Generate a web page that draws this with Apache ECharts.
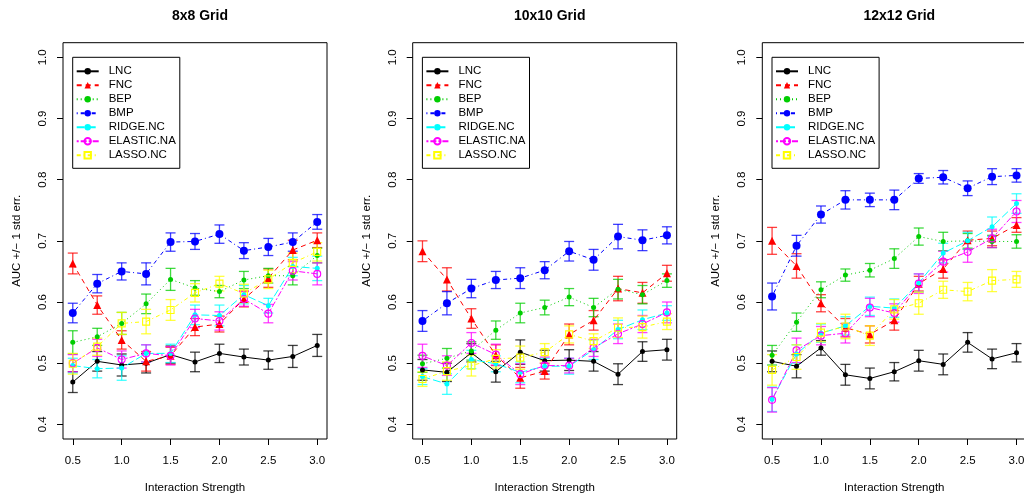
<!DOCTYPE html>
<html><head><meta charset="utf-8">
<script src="https://cdn.jsdelivr.net/npm/echarts@6/dist/echarts.min.js"></script>
<style>html,body{margin:0;padding:0;background:#fff}#c{width:1024px;height:493px}</style>
</head><body><div id="c"></div>
<script>
// ---------- data ----------
const xValues = [0.5,0.75,1,1.25,1.5,1.75,2,2.25,2.5,2.75,3];
const xTicks = [0.5,1,1.5,2,2.5,3];
const yTicks = [0.4,0.5,0.6,0.7,0.8,0.9,1.0];
const panelTitles = ['8x8 Grid','10x10 Grid','12x12 Grid'];
const methods = ['LNC','FNC','BEP','BMP','RIDGE.NC','ELASTIC.NA','LASSO.NC'];

// 8x8 grid: means and std errors
const g8_LNC = [0.469,0.503,0.497,0.500,0.514,0.502,0.516,0.510,0.505,0.511,0.529];
const g8_LNC_se = [0.017,0.016,0.018,0.016,0.014,0.016,0.015,0.013,0.015,0.018,0.018];
const g8_FNC = [0.663,0.595,0.538,0.503,0.512,0.559,0.564,0.605,0.639,0.685,0.701];
const g8_FNC_se = [0.017,0.015,0.015,0.016,0.014,0.014,0.013,0.013,0.015,0.016,0.012];
const g8_BEP = [0.534,0.543,0.565,0.597,0.637,0.623,0.617,0.636,0.643,0.643,0.676];
const g8_BEP_se = [0.019,0.014,0.018,0.016,0.018,0.012,0.010,0.014,0.012,0.015,0.012];
const g8_BMP = [0.582,0.630,0.650,0.646,0.698,0.699,0.711,0.684,0.690,0.698,0.731];
const g8_BMP_se = [0.016,0.015,0.014,0.018,0.015,0.013,0.015,0.013,0.014,0.015,0.012];
const g8_RIDGE = [0.496,0.491,0.492,0.516,0.516,0.579,0.578,0.612,0.594,0.658,0.655];
const g8_RIDGE_se = [0.012,0.015,0.020,0.014,0.015,0.016,0.017,0.015,0.012,0.015,0.020];
const g8_ELASTIC = [0.500,0.525,0.506,0.516,0.512,0.573,0.569,0.605,0.581,0.651,0.646];
const g8_ELASTIC_se = [0.014,0.014,0.014,0.014,0.015,0.015,0.015,0.012,0.015,0.015,0.018];
const g8_LASSO = [0.499,0.527,0.565,0.568,0.587,0.615,0.630,0.614,0.637,0.664,0.682];
const g8_LASSO_se = [0.017,0.014,0.018,0.020,0.017,0.015,0.012,0.015,0.015,0.016,0.015];

// 10x10 grid
const g10_LNC = [0.489,0.485,0.517,0.486,0.518,0.504,0.505,0.503,0.482,0.519,0.522];
const g10_LNC_se = [0.017,0.015,0.015,0.017,0.020,0.017,0.017,0.016,0.017,0.016,0.017];
const g10_FNC = [0.683,0.637,0.573,0.513,0.476,0.487,0.547,0.570,0.622,0.615,0.647];
const g10_FNC_se = [0.017,0.019,0.016,0.017,0.017,0.013,0.017,0.016,0.020,0.017,0.013];
const g10_BEP = [0.499,0.508,0.520,0.554,0.582,0.591,0.608,0.591,0.621,0.612,0.635];
const g10_BEP_se = [0.014,0.016,0.015,0.015,0.016,0.012,0.014,0.015,0.016,0.015,0.011];
const g10_BMP = [0.569,0.598,0.622,0.636,0.639,0.652,0.683,0.669,0.707,0.701,0.709];
const g10_BMP_se = [0.017,0.019,0.015,0.014,0.017,0.014,0.016,0.017,0.020,0.017,0.014];
const g10_RIDGE = [0.478,0.466,0.506,0.499,0.485,0.495,0.495,0.522,0.555,0.571,0.582];
const g10_RIDGE_se = [0.013,0.017,0.015,0.013,0.017,0.013,0.013,0.016,0.015,0.016,0.012];
const g10_ELASTIC = [0.512,0.496,0.533,0.514,0.482,0.496,0.496,0.525,0.548,0.564,0.583];
const g10_ELASTIC_se = [0.019,0.016,0.017,0.017,0.017,0.014,0.012,0.014,0.016,0.014,0.017];
const g10_LASSO = [0.474,0.487,0.496,0.507,0.509,0.518,0.547,0.536,0.558,0.559,0.568];
const g10_LASSO_se = [0.012,0.015,0.017,0.015,0.019,0.014,0.014,0.012,0.016,0.018,0.013];

// 12x12 grid
const g12_LNC = [0.503,0.495,0.525,0.481,0.475,0.486,0.504,0.498,0.534,0.507,0.517];
const g12_LNC_se = [0.017,0.019,0.012,0.017,0.017,0.015,0.017,0.017,0.016,0.016,0.015];
const g12_FNC = [0.700,0.659,0.598,0.558,0.547,0.570,0.630,0.654,0.701,0.704,0.726];
const g12_FNC_se = [0.022,0.020,0.014,0.015,0.014,0.016,0.012,0.015,0.015,0.012,0.012];
const g12_BEP = [0.513,0.567,0.620,0.644,0.652,0.671,0.707,0.699,0.700,0.699,0.699];
const g12_BEP_se = [0.016,0.015,0.013,0.010,0.011,0.016,0.014,0.015,0.012,0.010,0.011];
const g12_BMP = [0.609,0.692,0.743,0.767,0.767,0.767,0.802,0.804,0.786,0.805,0.807];
const g12_BMP_se = [0.022,0.017,0.014,0.015,0.011,0.016,0.008,0.011,0.012,0.013,0.011];
const g12_RIDGE = [0.441,0.515,0.549,0.561,0.593,0.590,0.631,0.680,0.700,0.723,0.761];
const g12_RIDGE_se = [0.020,0.015,0.015,0.015,0.015,0.015,0.015,0.016,0.014,0.016,0.016];
const g12_ELASTIC = [0.440,0.521,0.545,0.549,0.591,0.582,0.630,0.666,0.682,0.704,0.748];
const g12_ELASTIC_se = [0.020,0.020,0.015,0.016,0.015,0.015,0.016,0.017,0.017,0.015,0.018];
const g12_LASSO = [0.489,0.510,0.550,0.560,0.545,0.588,0.598,0.620,0.617,0.635,0.637];
const g12_LASSO_se = [0.025,0.020,0.015,0.020,0.016,0.016,0.018,0.014,0.015,0.018,0.013];

// ---------- assembly ----------
const panels = [
  [[g8_LNC,g8_LNC_se],[g8_FNC,g8_FNC_se],[g8_BEP,g8_BEP_se],[g8_BMP,g8_BMP_se],[g8_RIDGE,g8_RIDGE_se],[g8_ELASTIC,g8_ELASTIC_se],[g8_LASSO,g8_LASSO_se]],
  [[g10_LNC,g10_LNC_se],[g10_FNC,g10_FNC_se],[g10_BEP,g10_BEP_se],[g10_BMP,g10_BMP_se],[g10_RIDGE,g10_RIDGE_se],[g10_ELASTIC,g10_ELASTIC_se],[g10_LASSO,g10_LASSO_se]],
  [[g12_LNC,g12_LNC_se],[g12_FNC,g12_FNC_se],[g12_BEP,g12_BEP_se],[g12_BMP,g12_BMP_se],[g12_RIDGE,g12_RIDGE_se],[g12_ELASTIC,g12_ELASTIC_se],[g12_LASSO,g12_LASSO_se]]
];

const FONT = '"Liberation Sans", Arial, Helvetica, sans-serif';
const styles = [
  {color:'#000000', dash:'solid', symbol:'circle', size:5, hollow:false},
  {color:'#FF0000', dash:[5,4], symbol:'triangle', size:8, hollow:false},
  {color:'#00CD00', dash:[1,3], symbol:'circle', size:5, hollow:false},
  {color:'#0000FF', dash:[1,3,4,3], symbol:'circle', size:8, hollow:false},
  {color:'#00FFFF', dash:[8,3], symbol:'circle', size:5, hollow:false},
  {color:'#FF00FF', dash:[2,2,6,2], symbol:'circle', size:7, hollow:true},
  {color:'#FFFF00', dash:[4,3,1,3], symbol:'rect', size:7, hollow:true}
];

const gridLefts = [63, 412.7, 762.3];
const gridW = 264, gridTop = 42.7, gridH = 396.3;

const grids = [], xAxes = [], yAxes = [], titles = [], legends = [], series = [];
gridLefts.forEach((gl, p) => {
  grids.push({left: gl, top: gridTop, width: gridW, height: gridH, show: true,
    borderColor: '#000', borderWidth: 1, backgroundColor: 'transparent',
    containLabel: false, outerBoundsMode: 'none'});
  xAxes.push({type:'value', gridIndex:p, min:0.4, max:3.1,
    name:'Interaction Strength', nameLocation:'middle', nameGap:43,
    nameTextStyle:{fontFamily:FONT, fontSize:11.5, color:'#000'},
    axisLine:{show:false}, splitLine:{show:false},
    axisTick:{show:true, customValues:xTicks, length:6, lineStyle:{color:'#000'}},
    axisLabel:{show:true, customValues:xTicks, formatter:v=>Number(v).toFixed(1),
      fontFamily:FONT, fontSize:11.5, color:'#000', margin:16}});
  yAxes.push({type:'value', gridIndex:p, min:0.376, max:1.024,
    name:'AUC +/\u2212 1 std err.', nameLocation:'middle', nameGap:40, nameRotate:90,
    nameTextStyle:{fontFamily:FONT, fontSize:11.5, color:'#000'},
    axisLine:{show:false}, splitLine:{show:false},
    axisTick:{show:true, customValues:yTicks, length:6, lineStyle:{color:'#000'}},
    axisLabel:{show:true, customValues:yTicks, rotate:90, formatter:v=>Number(v).toFixed(1),
      fontFamily:FONT, fontSize:11.5, color:'#000', margin:14}});
  titles.push({text: panelTitles[p], left: gl + gridW/2, top: 4, textAlign:'center',
    textStyle:{fontFamily:FONT, fontSize:14, fontWeight:'bold', color:'#000'}});
  legends.push({data: methods, orient:'vertical', left: gl + 9.7, top: 57.3,
    borderColor:'#000', borderWidth:1, borderRadius:0, padding:[8,4,7,3],
    itemWidth:22, itemHeight:8, itemGap:2, selectedMode:false,
    textStyle:{fontFamily:FONT, fontSize:11.5, color:'#000', padding:[0,0,0,5]}});

  panels[p].forEach((pair, m) => {
    const [means, ses] = pair;
    const st = styles[m];
    series.push({type:'line', name: methods[m], xAxisIndex:p, yAxisIndex:p,
      data: xValues.map((x,i)=>[x, means[i]]),
      symbol: st.symbol, symbolSize: st.size, showSymbol:true,
      lineStyle:{color: st.color, width:1, type: st.dash},
      itemStyle: st.hollow
        ? {color:'rgba(255,255,255,0)', borderColor: st.color, borderWidth: 1.1}
        : {color: st.color, borderWidth: 0},
      emphasis:{disabled:true}, z: 2});
    series.push({type:'custom', name: methods[m] + ' err', xAxisIndex:p, yAxisIndex:p,
      data: xValues.map((x,i)=>[x, means[i]-ses[i], means[i]+ses[i]]),
      encode:{x:0, y:[1,2]}, z: 2, silent:true,
      renderItem: (params, api) => {
        const x = api.value(0), lo = api.value(1), hi = api.value(2);
        const a = api.coord([x, lo]), b = api.coord([x, hi]);
        const w = 5;
        const style = {stroke: st.color, lineWidth: 1.3, opacity: 0.75};
        return {type:'group', children:[
          {type:'line', shape:{x1:a[0], y1:a[1], x2:b[0], y2:b[1]}, style},
          {type:'line', shape:{x1:a[0]-w, y1:a[1], x2:a[0]+w, y2:a[1]}, style},
          {type:'line', shape:{x1:b[0]-w, y1:b[1], x2:b[0]+w, y2:b[1]}, style}
        ]};
      }});
  });
});

const chart = echarts.init(document.getElementById('c'), null, {renderer:'canvas'});
chart.setOption({
  animation:false, backgroundColor:'#fff',
  title: titles, legend: legends, grid: grids, xAxis: xAxes, yAxis: yAxes, series: series
});
</script></body></html>
